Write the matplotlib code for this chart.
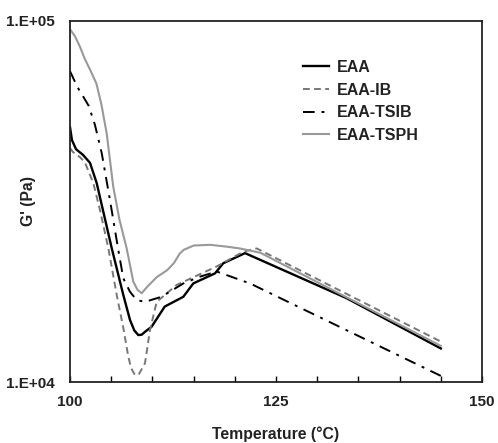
import matplotlib
matplotlib.use("Agg")
import matplotlib.pyplot as plt
import numpy as np

# data (temperature in C, G' in Pa as log10)
t_eaa = [100, 100.24, 100.73, 101.58, 102.43, 103.24, 104.13, 105.06, 106.47, 107.28,
         107.8, 108.29, 108.7, 109.1, 109.9, 111.5, 113.75, 114.96, 117.6, 118.6, 121.24, 133.58, 145]
g_eaa = [4.706, 4.670, 4.645, 4.629, 4.607, 4.551, 4.463, 4.371, 4.241, 4.172,
         4.143, 4.130, 4.131, 4.139, 4.153, 4.209, 4.236, 4.273, 4.301, 4.329, 4.357, 4.232, 4.093]

t_ib = [100, 100.36, 101.2, 101.8, 102.83, 103.64, 104.65, 105.67, 106.47, 107.04,
        107.4, 107.89, 108.37, 109.1, 109.71, 110.52, 112.95, 117.8, 121.03, 122.66, 145]
g_ib = [4.648, 4.637, 4.623, 4.609, 4.551, 4.476, 4.371, 4.241, 4.150, 4.075,
        4.039, 4.019, 4.022, 4.052, 4.144, 4.222, 4.269, 4.320, 4.361, 4.370, 4.112]

t_tsib = [100, 100.49, 101.1, 101.7, 102.27, 103.03, 103.85, 104.85, 105.86, 106.47,
          107.28, 108.09, 109.1, 111.1, 113.75, 115.8, 117.8, 121.85, 145]
g_tsib = [4.861, 4.837, 4.809, 4.787, 4.765, 4.712, 4.634, 4.504, 4.366, 4.287,
          4.250, 4.227, 4.222, 4.236, 4.273, 4.292, 4.306, 4.273, 4.017]

t_tsph = [100, 100.6, 101.2, 101.8, 102.5, 103.2, 103.8, 104.45, 105.25, 106.0,
          106.88, 107.68, 108.2, 108.7, 109.3, 110.5, 111.8, 112.6, 113.3, 113.8,
          115.0, 117.0, 119.0, 120.6, 123.1, 145]
g_tsph = [4.977, 4.958, 4.929, 4.895, 4.862, 4.827, 4.770, 4.689, 4.541, 4.450,
          4.370, 4.278, 4.255, 4.246, 4.262, 4.290, 4.310, 4.329, 4.355, 4.366,
          4.378, 4.380, 4.375, 4.370, 4.358, 4.100]

x_ticks = [100, 125, 150]
y_ticks = [1e4, 1e5]
y_ticklabels = ['1.E+04', '1.E+05']

plt.rcParams['font.family'] = ['Liberation Sans', 'DejaVu Sans']

fig = plt.figure(figsize=(4.98, 4.43), dpi=100)
ax = fig.add_axes([70/498, 61/443, 412/498, 361/443])

ax.plot(t_eaa, 10**np.array(g_eaa), color='black', lw=1.7, label='EAA')
ax.plot(t_ib, 10**np.array(g_ib), color='#777777', lw=1.4, dashes=(3.5, 2.2), label='EAA-IB')
ax.plot(t_tsib, 10**np.array(g_tsib), color='black', lw=1.4, dashes=(6, 3.5, 1.5, 3.5), label='EAA-TSIB')
ax.plot(t_tsph, 10**np.array(g_tsph), color='#999999', lw=1.5, label='EAA-TSPH')

ax.set_yscale('log')
ax.set_xlim(100, 150)
ax.set_ylim(1e4, 1e5)
ax.set_yticks(y_ticks)
ax.set_yticklabels(y_ticklabels)
ax.yaxis.set_minor_locator(matplotlib.ticker.NullLocator())
ax.set_xticks(x_ticks)
ax.set_xticks(np.arange(105, 150, 5), minor=True)
ax.tick_params(axis='x', which='both', direction='in', length=4, width=1)
ax.tick_params(axis='x', which='major', pad=9)
ax.tick_params(axis='y', length=0, pad=11)
for lab in ax.get_xticklabels() + ax.get_yticklabels():
    lab.set_fontsize(11)
    lab.set_fontweight('bold')
    lab.set_color('#222222')

for s in ax.spines.values():
    s.set_linewidth(1.3)
    s.set_color('#222222')

ax.set_xlabel('Temperature (°C)', fontsize=11.3, fontweight='bold', color='#222222')
ax.set_ylabel("G' (Pa)", fontsize=11.3, fontweight='bold', color='#222222')
ax.xaxis.set_label_coords(0.5, -0.124)
ax.yaxis.set_label_coords(-0.083, 0.5)

leg = ax.legend(loc='upper left', bbox_to_anchor=(0.5655, 0.892), frameon=False,
                prop={'weight': 'bold', 'size': 11.5}, handlelength=1.65,
                labelspacing=0.48, handletextpad=0.5, borderpad=0, borderaxespad=0)
for txt in leg.get_texts():
    txt.set_color('#222222')

fig.savefig('out.png', dpi=100)
